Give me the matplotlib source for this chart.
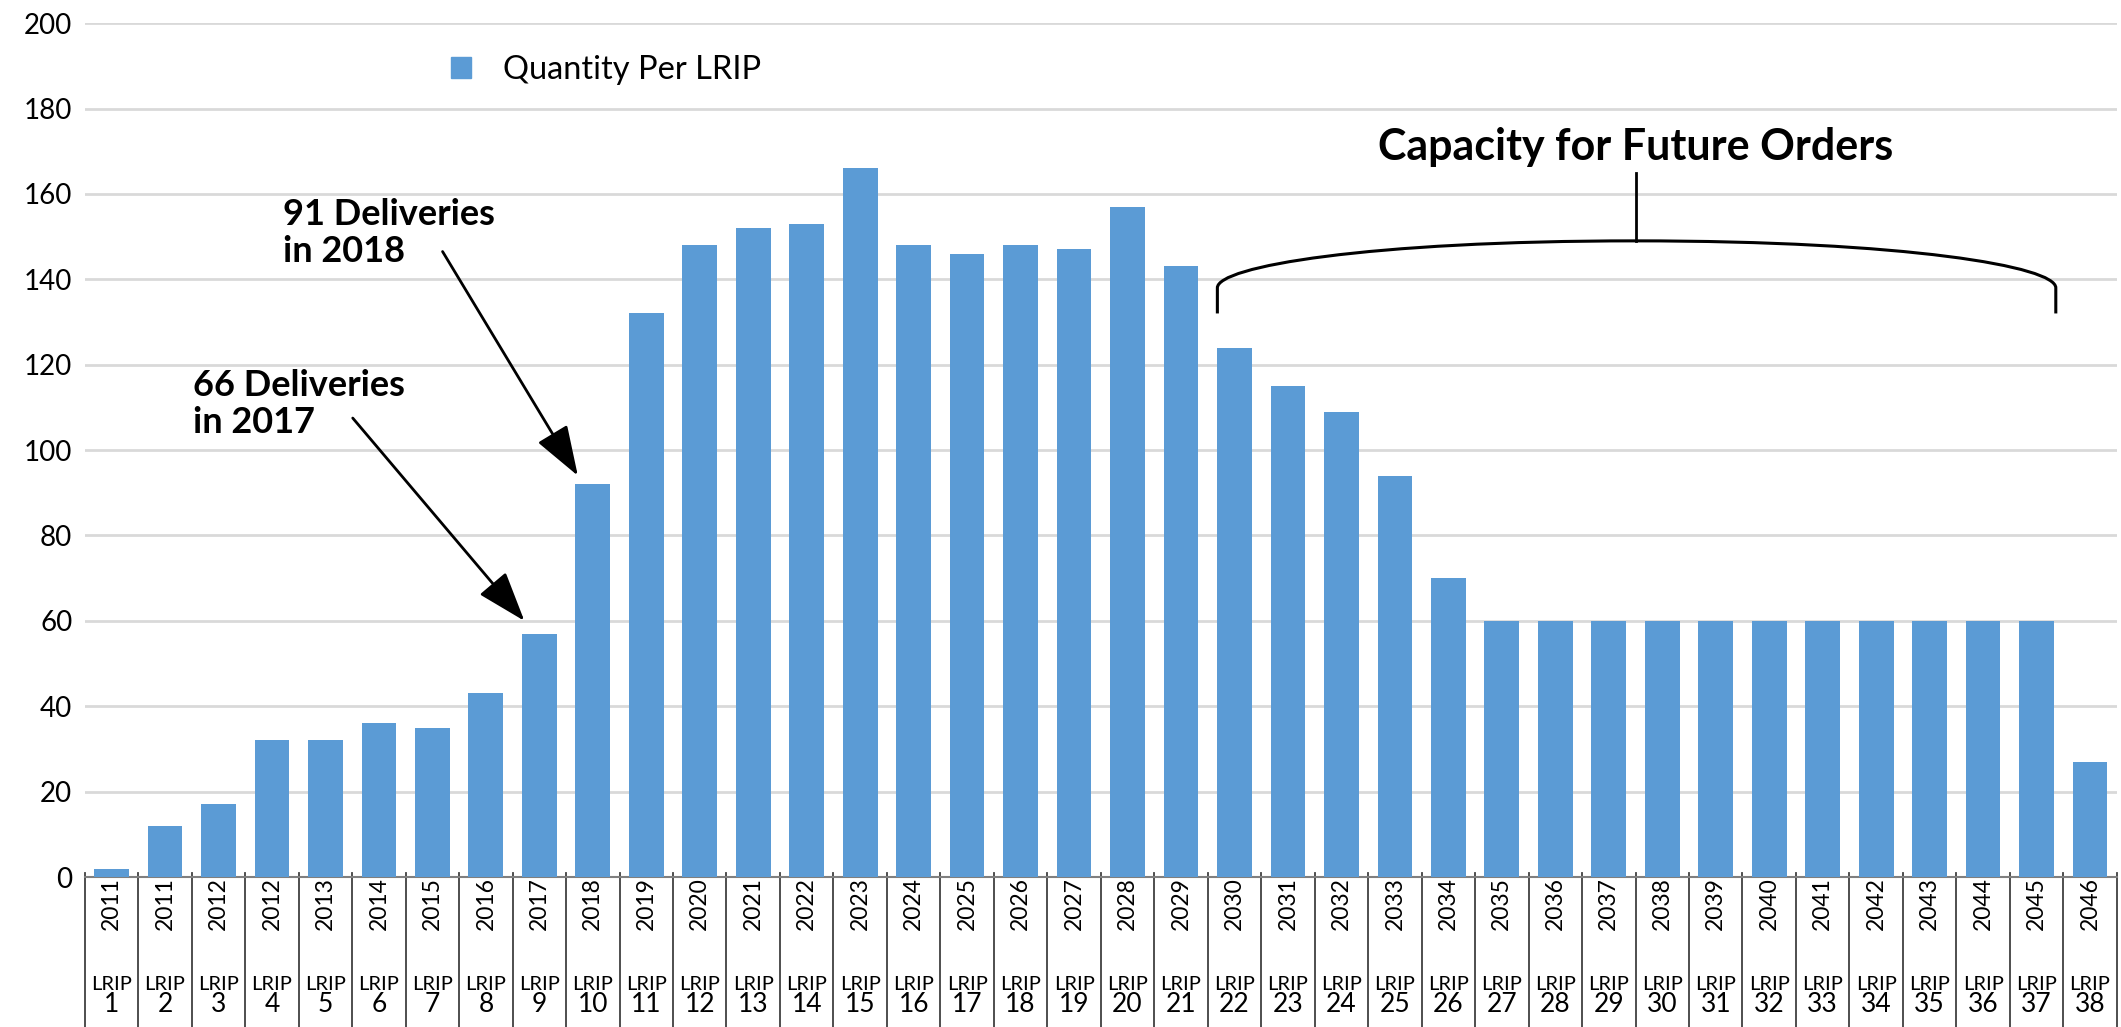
import matplotlib.pyplot as plt
from matplotlib.path import Path
from matplotlib.patches import PathPatch, Patch
from matplotlib.transforms import blended_transform_factory

years = [2011, 2011, 2012, 2012, 2013, 2014, 2015, 2016, 2017, 2018,
         2019, 2020, 2021, 2022, 2023, 2024, 2025, 2026, 2027, 2028,
         2029, 2030, 2031, 2032, 2033, 2034, 2035, 2036, 2037, 2038,
         2039, 2040, 2041, 2042, 2043, 2044, 2045, 2046]
lrip = list(range(1, 39))
quantity = [2, 12, 17, 32, 32, 36, 35, 43, 57, 92,
            132, 148, 152, 153, 166, 148, 146, 148, 147, 157,
            143, 124, 115, 109, 94, 70, 60, 60, 60, 60,
            60, 60, 60, 60, 60, 60, 60, 27]
yticks = [0, 20, 40, 60, 80, 100, 120, 140, 160, 180, 200]

plt.rcParams['font.family'] = ['Lato', 'DejaVu Sans']
blue = '#5B9BD5'

fig = plt.figure(figsize=(21.21, 10.27), dpi=100)
ax = fig.add_axes([0.040, 0.146, 0.958, 0.8315])
x = list(range(len(quantity)))
ax.bar(x, quantity, width=0.65, color=blue, zorder=3)
ax.set_xlim(-0.5, len(quantity) - 0.5)
ax.set_ylim(0, 200)
ax.set_yticks(yticks)
ax.tick_params(axis='y', length=0, labelsize=20, pad=9)
ax.set_xticks([])
ax.grid(axis='y', color='#D9D9D9', linewidth=2, zorder=0)
for s in ['top', 'right', 'left']: ax.spines[s].set_visible(False)
ax.spines['bottom'].set_color('#7f7f7f')
ax.spines['bottom'].set_linewidth(1.5)

# category table under the axis
trans = blended_transform_factory(ax.transData, fig.transFigure)
for i in range(len(quantity) + 1):
	ax.plot([i - 0.5, i - 0.5], [0.0, 0.150], transform=trans, color='#404040', lw=1.3, clip_on=False)
for i in x:
	ax.text(i, 0.120, str(years[i]), transform=trans, rotation=90, ha='center', va='center', fontsize=16.5)
	ax.text(i, 0.041, 'LRIP', transform=trans, ha='center', va='center', fontsize=14.5)
	ax.text(i, 0.022, str(lrip[i]), transform=trans, ha='center', va='center', fontsize=19)

ax.legend(handles=[Patch(color=blue, label='Quantity Per LRIP')], loc='center left',
	bbox_to_anchor=(0.2126, 0.932), bbox_transform=fig.transFigure, frameon=False,
	borderpad=0, borderaxespad=0, handlelength=0.6, handleheight=0.6, handletextpad=1.0, fontsize=23.5)

arrow = dict(arrowstyle='-|>,head_length=1.3,head_width=0.45', color='black', lw=2, mutation_scale=24, shrinkA=0, shrinkB=0)
ax.annotate('', xy=(8.72, 94), xytext=(6.19, 146.5), arrowprops=arrow)
ax.annotate('', xy=(7.72, 60), xytext=(4.51, 107.5), arrowprops=arrow)
ax.text(3.2, 159, '91 Deliveries\nin 2018', fontsize=26, fontweight='bold', va='top', ha='left', linespacing=1.15)
ax.text(1.52, 119, '66 Deliveries\nin 2017', fontsize=26, fontweight='bold', va='top', ha='left', linespacing=1.15)

# brace over the future orders
l, c, r = 20.68, 28.5, 36.36
verts = [(l, 132), (l, 138), (l, 143), (l + 2.8, 149), (c, 149),
         (r - 2.8, 149), (r, 143), (r, 138), (r, 132)]
codes = [Path.MOVETO, Path.LINETO, Path.CURVE4, Path.CURVE4, Path.CURVE4,
         Path.CURVE4, Path.CURVE4, Path.CURVE4, Path.LINETO]
ax.add_patch(PathPatch(Path(verts, codes), fill=False, lw=2.2, color='black', zorder=4))
ax.plot([c, c], [149, 165], color='black', lw=2, zorder=4)
ax.text(c, 171, 'Capacity for Future Orders', fontsize=31, fontweight='bold', ha='center', va='center')

plt.savefig('out.png', dpi=100)
